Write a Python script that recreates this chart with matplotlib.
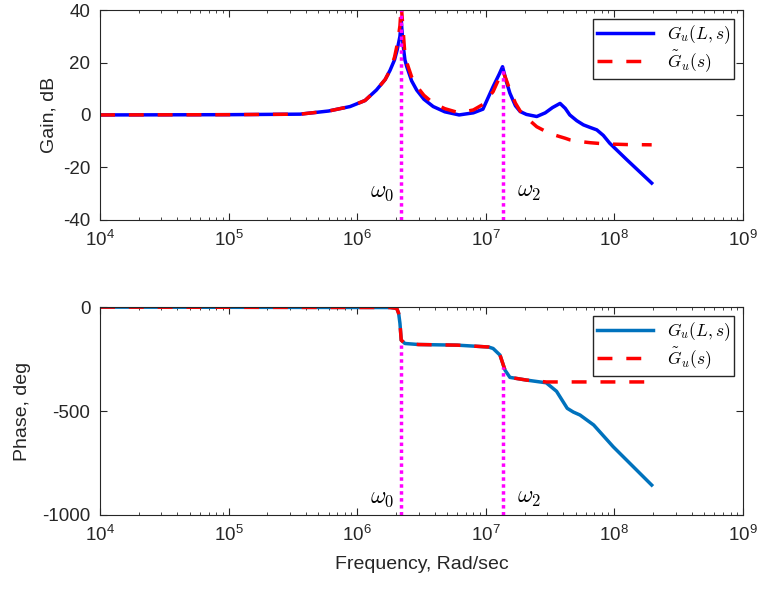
import numpy as np
import matplotlib.pyplot as plt
from matplotlib.ticker import LogLocator, NullFormatter

plt.rcParams['font.family'] = ['Liberation Sans', 'DejaVu Sans']
plt.rcParams['mathtext.fontset'] = 'cm'
plt.rcParams['axes.unicode_minus'] = False
plt.rcParams['lines.solid_joinstyle'] = 'round'
plt.rcParams['lines.dash_joinstyle'] = 'round'

# frequencies (rad/s) and values
f_gain = [1e4, 1e5, 3.6e5, 6e5, 8.8e5, 1.15e6, 1.41e6, 1.65e6, 1.8e6, 1.95e6, 2.05e6,
          2.15e6, 2.2e6, 2.27e6, 2.35e6, 2.43e6, 2.65e6, 2.9e6, 3.3e6, 3.9e6, 4.8e6,
          6.2e6, 8e6, 9.5e6, 1.14e7, 1.27e7, 1.35e7, 1.44e7, 1.54e7, 1.7e7, 1.85e7,
          2.07e7, 2.49e7, 2.9e7, 3.3e7, 3.78e7, 4.15e7, 4.5e7, 5.1e7, 5.75e7, 6.5e7,
          7.3e7, 8.2e7, 9.2e7, 1.25e8, 1.95e8]
gain_exact = [0, 0.1, 0.3, 1.5, 3.2, 5.5, 9.5, 13.5, 17, 21, 25,
              30, 36, 27, 21, 18.4, 13, 9.5, 6, 3.2, 1.2,
              0, 0.8, 2.2, 10.8, 15.5, 18.4, 13, 8.3, 3.5, 1.3,
              0.2, -0.6, 0.8, 2.8, 4.4, 2.5, 0, -2.2, -3.8, -4.8,
              -5.7, -7.8, -10.8, -17.1, -26]
gain_approx = [0, 0.1, 0.3, 1.5, 3.2, 5.5, 9.5, 13.5, 17, 22, 27,
               34, 42, 33, 23, 20, 14.5, 11, 7.5, 4.5, 2.4,
               0.8, 1.9, 4, 8.9, 14, 17.1, 13.5, 9.5, 4.5, 1.5,
               -1, -4.5, -6.2, -7.4, -8.3, -8.9, -9.5, -9.9, -10.3, -10.6,
               -10.8, -11, -11.1, -11.3, -11.4]

f_phase = [1e4, 1.8e6, 2.03e6, 2.1e6, 2.15e6, 2.2e6, 2.35e6, 3e6, 6e6, 1.05e7, 1.14e7,
           1.29e7, 1.41e7, 1.54e7, 2.07e7, 2.5e7, 2.95e7, 3.55e7, 4.3e7, 4.8e7, 5.4e7,
           6.9e7, 9.8e7, 1.95e8]
phase_exact = [0, -2, -6, -30, -78, -159, -175, -180, -183, -192, -199,
               -231, -303, -338, -351, -358, -364, -405, -487, -505, -519,
               -567, -672, -856]
phase_approx = [0, -2, -6, -30, -78, -159, -175, -180, -183, -192, -199,
                -231, -303, -338, -351, -356, -360, -360, -360, -360, -360,
                -360, -360, -360]

w_marks = [2.2e6, 1.36e7]
w_labels = [r'$\omega_{\mathsf{0}}$', r'$\omega_{\mathsf{2}}$']
gain_tops = [40, 18.4]
phase_tops = [-180, -290]

fig = plt.figure(figsize=(7.6, 5.94), dpi=100)
ax1 = fig.add_axes([0.1316, 0.630, 0.846, 0.353])
ax2 = fig.add_axes([0.1316, 0.133, 0.846, 0.350])


def style(ax):
    ax.set_xscale('log')
    ax.set_xlim(1e4, 1e9)
    ax.xaxis.set_major_locator(LogLocator(base=10, numticks=10))
    ax.xaxis.set_minor_locator(LogLocator(base=10, subs=np.arange(2, 10), numticks=20))
    ax.xaxis.set_minor_formatter(NullFormatter())
    ax.tick_params(which='both', direction='in', top=True, right=True,
                   colors='#262626', labelsize=13.5)
    ax.tick_params(axis='x', which='major', pad=7)
    ax.tick_params(axis='y', which='major', pad=7)
    ax.tick_params(which='major', length=5)
    ax.tick_params(which='minor', length=2.5)
    for s in ax.spines.values():
        s.set_color('#262626')
        s.set_linewidth(0.8)


dash = (0, (4.3, 4))
dots = (0, (1, 1))

# gain
ax1.plot(f_gain, gain_exact, color='blue', lw=2.5, label=r'$G_u(L,s)$')
ax1.plot(f_gain, gain_approx, color='red', lw=2.5, ls=dash, label=r'$\tilde{G}_u(s)$')
for w, top in zip(w_marks, gain_tops):
    ax1.plot([w, w], [-40, top], color='magenta', lw=2.5, ls=dots)
ax1.text(1.25e6, -29.5, w_labels[0], fontsize=17, ha='left', va='center')
ax1.text(1.75e7, -29.5, w_labels[1], fontsize=17, ha='left', va='center')
style(ax1)
ax1.set_ylim(-40, 40)
ax1.set_yticks([-40, -20, 0, 20, 40])
ax1.set_ylabel('Gain, dB', fontsize=14, color='#262626', labelpad=4)
ax1.legend(loc='upper right', fontsize=12.5, frameon=True, fancybox=False,
           edgecolor='#262626', handlelength=3.2, borderpad=0.25, labelspacing=0.15,
           borderaxespad=0.5, framealpha=1)

# phase
ax2.plot(f_phase, phase_exact, color='#0072BD', lw=2.5, label=r'$G_u(L,s)$')
ax2.plot(f_phase, phase_approx, color='red', lw=2.5, ls=dash, label=r'$\tilde{G}_u(s)$')
for w, top in zip(w_marks, phase_tops):
    ax2.plot([w, w], [-1000, top], color='magenta', lw=2.5, ls=dots)
ax2.text(1.25e6, -920, w_labels[0], fontsize=17, ha='left', va='center')
ax2.text(1.75e7, -920, w_labels[1], fontsize=17, ha='left', va='center')
style(ax2)
ax2.set_ylim(-1000, 0)
ax2.set_yticks([-1000, -500, 0])
ax2.set_ylabel('Phase, deg', fontsize=14, color='#262626', labelpad=8)
ax2.set_xlabel('Frequency, Rad/sec', fontsize=14, color='#262626', labelpad=8)
ax2.legend(loc='upper right', fontsize=12.5, frameon=True, fancybox=False,
           edgecolor='#262626', handlelength=3.2, borderpad=0.25, labelspacing=0.15,
           borderaxespad=0.5, framealpha=1)

fig.savefig('out.png', dpi=100)
